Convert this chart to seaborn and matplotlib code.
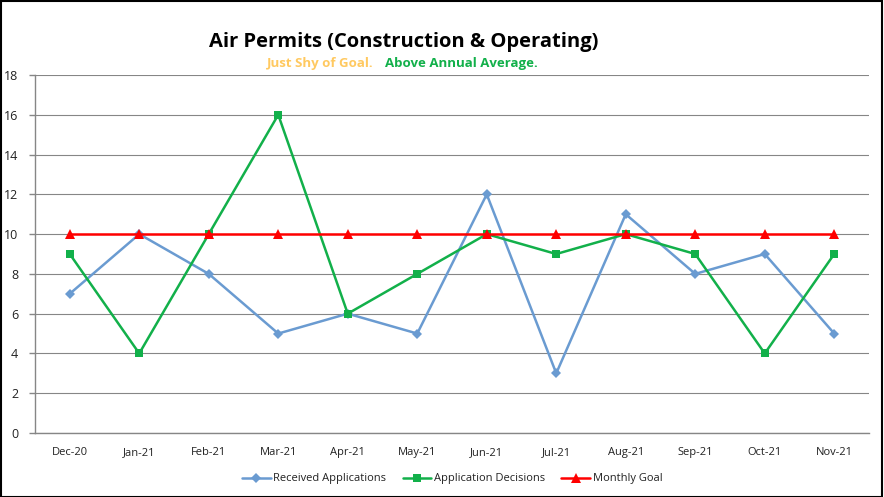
import matplotlib
matplotlib.use("Agg")
import matplotlib.pyplot as plt
import seaborn as sns
import pandas as pd
import numpy as np

months = ["Dec-20", "Jan-21", "Feb-21", "Mar-21", "Apr-21", "May-21",
          "Jun-21", "Jul-21", "Aug-21", "Sep-21", "Oct-21", "Nov-21"]
received = [7, 10, 8, 5, 6, 5, 12, 3, 11, 8, 9, 5]
decisions = [9, 4, 10, 16, 6, 8, 10, 9, 10, 9, 4, 9]
goal = [10, 10, 10, 10, 10, 10, 10, 10, 10, 10, 10, 10]
yticks = [0, 2, 4, 6, 8, 10, 12, 14, 16, 18]

sns.set_theme(style="white")
plt.rcParams['font.family'] = ['Open Sans', 'DejaVu Sans']

fig = plt.figure(figsize=(8.84, 4.97), dpi=100)
ax = fig.add_axes([35/884, 1-433/497, (869-35)/884, (433-75)/497])

x = np.arange(len(months))
df = pd.DataFrame({"x": x, "Received Applications": received,
                   "Application Decisions": decisions, "Monthly Goal": goal})

sns.lineplot(data=df, x="x", y="Received Applications", ax=ax, color="#6A9BD1",
             marker="D", markersize=5, linewidth=1.8, markeredgewidth=0,
             label="Received Applications")
sns.lineplot(data=df, x="x", y="Application Decisions", ax=ax, color="#12B04A",
             marker="s", markersize=6, linewidth=1.8, markeredgewidth=0,
             label="Application Decisions")
sns.lineplot(data=df, x="x", y="Monthly Goal", ax=ax, color="#FF0000",
             marker="^", markersize=7, linewidth=1.8, markeredgewidth=0,
             label="Monthly Goal")

ax.set_xlim(-0.5, len(months) - 0.5)
ax.set_ylim(0, 18)
ax.set_yticks(yticks)
ax.set_yticklabels([str(v) for v in yticks], fontsize=9, color="#222222")
ax.set_xticks(x)
ax.set_xticklabels(months, fontsize=8, color="#222222")
ax.set_xticks(np.arange(-0.5, len(months)), minor=True)
ax.tick_params(axis='x', which='major', length=0, pad=10)
ax.tick_params(axis='x', which='minor', length=4, color="#868686", width=1, direction='out')
ax.tick_params(axis='y', length=4, color="#868686", width=1, direction='out', left=True, pad=8)
ax.set_xlabel("")
ax.set_ylabel("")
ax.grid(axis='y', color="#868686", linewidth=0.8)
ax.set_axisbelow(True)
for s in ["top", "right"]:
    ax.spines[s].set_visible(False)
for s in ["left", "bottom"]:
    ax.spines[s].set_color("#868686")
    ax.spines[s].set_linewidth(1)

leg = ax.legend(loc="upper center", bbox_to_anchor=(0.5, -0.085), ncol=3, frameon=False,
                fontsize=8, handlelength=2.6, columnspacing=1.5, handletextpad=0.2)
for t in leg.get_texts():
    t.set_color("#222222")

fig.text(0.457, 0.916, "Air Permits (Construction & Operating)", ha="center", va="center",
         fontsize=14.5, fontweight="bold", color="black")
fig.text(0.423, 0.873, "Just Shy of Goal.", ha="right", va="center", fontsize=9.5,
         fontweight="bold", color="#FFC960")
fig.text(0.435, 0.873, "Above Annual Average.", ha="left", va="center", fontsize=9.5,
         fontweight="bold", color="#12B04A")

border = plt.Rectangle((0.001, 0.001), 0.997, 0.997, transform=fig.transFigure,
                       fill=False, edgecolor="black", linewidth=1.5)
fig.patches.append(border)

fig.savefig("out.png", dpi=100)
